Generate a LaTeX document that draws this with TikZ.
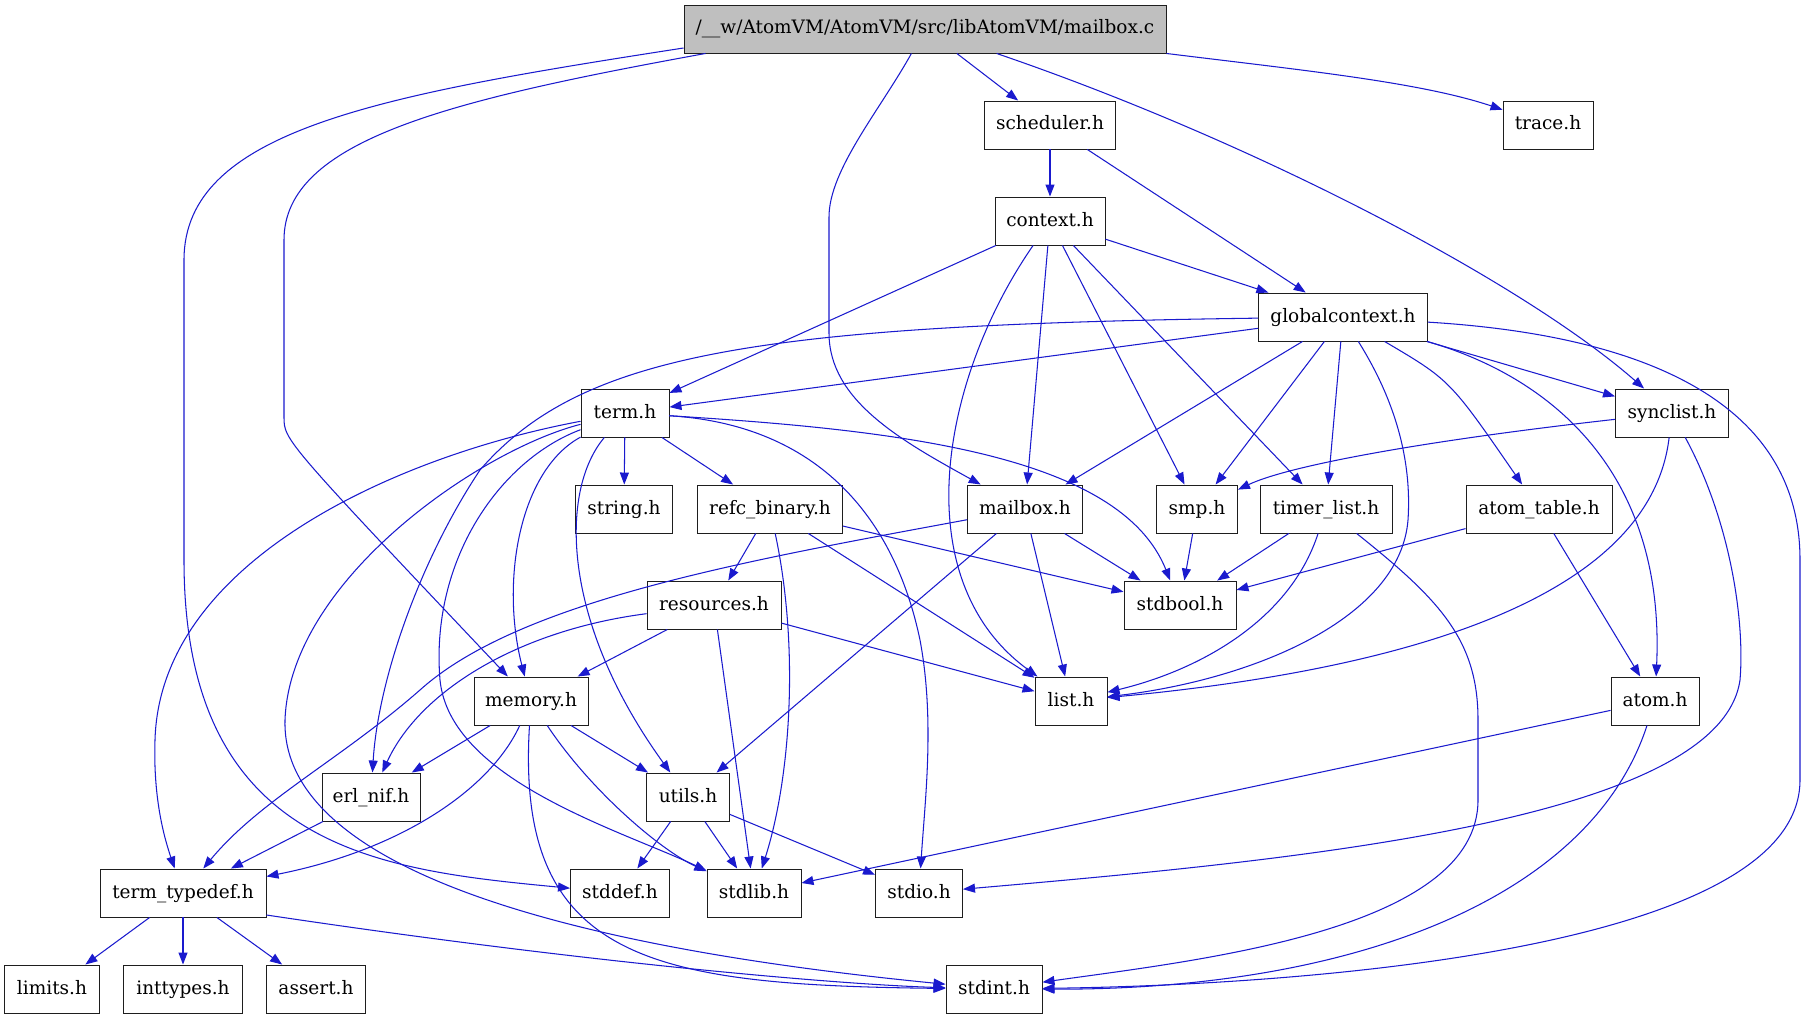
\documentclass[tikz,border=0pt]{standalone}
\usepackage{fontspec}
\setmainfont{DejaVu Serif}
\usetikzlibrary{arrows.meta}
\definecolor{edgeblue}{RGB}{26,26,206}
\definecolor{maingray}{RGB}{191,191,191}
\definecolor{boxline}{RGB}{30,30,30}
\begin{document}
\begin{tikzpicture}[x=1pt,y=-1pt,
  box/.style={draw=boxline, line width=0.95pt, fill=white, minimum height=48pt, inner sep=0pt,
    font=\fontsize{18.5pt}{22pt}\selectfont, text height=13.5pt, text depth=3.5pt},
  edge/.style={draw=edgeblue, line width=1.05pt, -{Triangle[length=12pt,width=9pt]}}]
\useasboundingbox (0,0) rectangle (1807,1019);
\fill[white] (0,0) rectangle (1807,1019);
% nodes
\node[box, fill=maingray, minimum width=482pt] (main) at (925,29) {/\_\_w/AtomVM/AtomVM/src/libAtomVM/mailbox.c};
\node[box, minimum width=131pt] (scheduler) at (1050,125) {scheduler.h};
\node[box, minimum width=90pt] (trace) at (1548,125) {trace.h};
\node[box, minimum width=110pt] (context) at (1050,221) {context.h};
\node[box, minimum width=169pt] (gc) at (1343,317) {globalcontext.h};
\node[box, minimum width=88pt] (term) at (625,413) {term.h};
\node[box, minimum width=113pt] (synclist) at (1672,413) {synclist.h};
\node[box, minimum width=97pt] (string) at (624,509) {string.h};
\node[box, minimum width=145pt] (refc) at (770,509) {refc\_binary.h};
\node[box, minimum width=115pt] (mailbox) at (1025,509) {mailbox.h};
\node[box, minimum width=81pt] (smp) at (1197,509) {smp.h};
\node[box, minimum width=132pt] (timer) at (1326,509) {timer\_list.h};
\node[box, minimum width=146pt] (atomtable) at (1539,509) {atom\_table.h};
\node[box, minimum width=112pt] (stdbool) at (1180,605) {stdbool.h};
\node[box, minimum width=134pt] (resources) at (714,605) {resources.h};
\node[box, minimum width=114pt] (memory) at (531,701) {memory.h};
\node[box, minimum width=72pt] (list) at (1071,701) {list.h};
\node[box, minimum width=88pt] (atom) at (1655,701) {atom.h};
\node[box, minimum width=98pt] (erlnif) at (371,797) {erl\_nif.h};
\node[box, minimum width=83pt] (utils) at (688,797) {utils.h};
\node[box, minimum width=166pt] (typedef) at (183,893) {term\_typedef.h};
\node[box, minimum width=99pt] (stddef) at (620,893) {stddef.h};
\node[box, minimum width=94pt] (stdlib) at (754,893) {stdlib.h};
\node[box, minimum width=87pt] (stdio) at (919,893) {stdio.h};
\node[box, minimum width=95pt] (limits) at (52,989) {limits.h};
\node[box, minimum width=119pt] (inttypes) at (183,989) {inttypes.h};
\node[box, minimum width=99pt] (assert) at (316,989) {assert.h};
\node[box, minimum width=96pt] (stdint) at (994,989) {stdint.h};
% main
\draw[edge] (main) -- (scheduler);
\draw[edge] (main.south east) .. controls (1300,70) and (1420,82) .. (trace);
\draw[edge] (main) .. controls (1250,140) and (1520,280) .. (synclist);
\draw[edge] (main) .. controls (880,110) and (829,170) .. (829,217) -- (829,333) .. controls (829,400) and (900,440) .. (mailbox);
\draw[edge] ([xshift=22pt]main.south west) .. controls (450,100) and (284,140) .. (284,240) -- (284,417) .. controls (284,440) .. (memory);
\draw[edge] ([yshift=-19pt]main.west) .. controls (380,95) and (184,130) .. (184,260) -- (184,560) .. controls (184,850) and (380,870) .. (stddef);
% scheduler
\draw[edge] (scheduler) -- (context);
\draw[edge] (scheduler) -- (gc);
% context
\draw[edge] (context) -- (gc);
\draw[edge] (context) -- (term);
\draw[edge] (context) -- (mailbox);
\draw[edge] (context) -- (smp);
\draw[edge] (context) -- (timer);
\draw[edge] (context) .. controls (940,380) and (905,580) .. (list);
% globalcontext
\draw[edge] (gc) .. controls (750,325) and (580,355) .. (480,470) .. controls (420,560) and (378,680) .. (erlnif);
\draw[edge] (gc) -- (term);
\draw[edge] (gc) -- (mailbox);
\draw[edge] (gc) -- (smp);
\draw[edge] (gc) -- (timer);
\draw[edge] (gc) .. controls (1395,400) and (1412,460) .. (1408,520) .. controls (1400,620) and (1250,680) .. (list);
\draw[edge] (gc) .. controls (1450,380) .. (atomtable);
\draw[edge] (gc) .. controls (1560,380) and (1665,480) .. (atom);
\draw[edge] (gc) -- (synclist);
\draw[edge] (gc) .. controls (1640,335) and (1800,400) .. (1800,560) -- (1800,780) .. controls (1800,950) and (1300,985) .. (stdint);
% term
\draw[edge] (term) -- (string);
\draw[edge] (term) -- (refc);
\draw[edge] (term) .. controls (900,430) and (1120,455) .. (stdbool);
\draw[edge] (term) .. controls (820,425) and (895,520) .. (920,640) .. controls (935,720) and (925,800) .. (stdio);
\draw[edge] (term) .. controls (560,490) and (560,620) .. (utils);
\draw[edge] (term) .. controls (520,470) and (500,580) .. (memory);
\draw[edge] (term) .. controls (500,460) and (430,560) .. (440,680) .. controls (450,780) and (620,830) .. (stdlib);
\draw[edge] (term) .. controls (480,450) and (290,580) .. (285,720) .. controls (280,900) and (700,960) .. (stdint);
\draw[edge] (term) .. controls (400,455) and (160,560) .. (155,740) .. controls (153,800) and (165,840) .. (typedef);
% refc_binary
\draw[edge] (refc) -- (resources);
\draw[edge] (refc) .. controls (800,650) and (790,780) .. (stdlib);
\draw[edge] (refc) -- (list);
\draw[edge] (refc) -- (stdbool);
% mailbox
\draw[edge] (mailbox) .. controls (750,560) and (520,600) .. (420,690) .. controls (340,760) and (260,800) .. (typedef);
\draw[edge] (mailbox) -- (utils);
\draw[edge] (mailbox) -- (list);
\draw[edge] (mailbox) -- (stdbool);
% smp, timer_list, atom_table
\draw[edge] (smp) -- (stdbool);
\draw[edge] (timer) -- (stdbool);
\draw[edge] (timer) .. controls (1290,620) and (1200,670) .. (list);
\draw[edge] (timer) .. controls (1440,600) and (1478,640) .. (1478,720) -- (1478,800) .. controls (1478,930) and (1200,960) .. (stdint);
\draw[edge] (atomtable) -- (stdbool);
\draw[edge] (atomtable) -- (atom);
% synclist
\draw[edge] (synclist) .. controls (1430,440) and (1290,465) .. (smp);
\draw[edge] (synclist) .. controls (1650,600) and (1400,670) .. (list);
\draw[edge] (synclist) .. controls (1730,520) and (1745,620) .. (1740,680) .. controls (1720,820) and (1300,860) .. (stdio);
% resources
\draw[edge] (resources) .. controls (520,630) and (420,690) .. (erlnif);
\draw[edge] (resources) -- (memory);
\draw[edge] (resources) -- (stdlib);
\draw[edge] (resources) -- (list);
% memory
\draw[edge] (memory) -- (erlnif);
\draw[edge] (memory) -- (utils);
\draw[edge] (memory) .. controls (490,790) and (400,850) .. (typedef);
\draw[edge] (memory) .. controls (590,790) and (660,850) .. (stdlib);
\draw[edge] (memory) .. controls (515,960) and (650,985) .. (stdint);
% erl_nif, utils, atom
\draw[edge] (erlnif) -- (typedef);
\draw[edge] (utils) -- (stddef);
\draw[edge] (utils) -- (stdlib);
\draw[edge] (utils) -- (stdio);
\draw[edge] (atom) -- (stdlib);
\draw[edge] (atom) .. controls (1590,900) and (1350,990) .. (stdint);
% term_typedef
\draw[edge] (typedef) -- (limits);
\draw[edge] (typedef) -- (inttypes);
\draw[edge] (typedef) -- (assert);
\draw[edge] ([yshift=-22pt]typedef.east) .. controls (600,965) and (850,985) .. (stdint);
\end{tikzpicture}
\end{document}
